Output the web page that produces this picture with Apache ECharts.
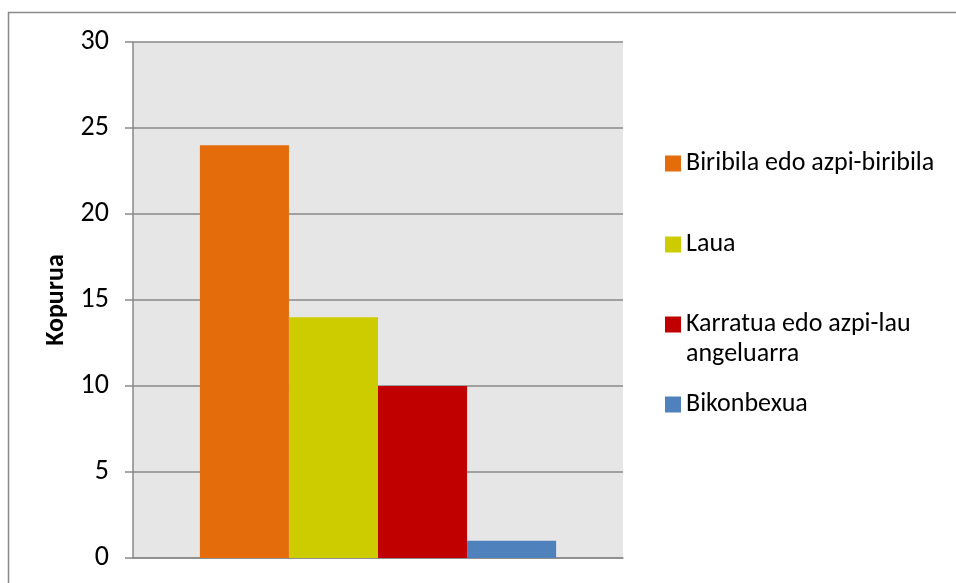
<!DOCTYPE html>
<html><head><meta charset="utf-8">
<script src="https://cdn.jsdelivr.net/npm/echarts@6/dist/echarts.min.js"></script>
<style>html,body{margin:0;padding:0;background:#fff}#c{width:956px;height:583px}</style>
</head><body><div id="c"></div>
<script>
const categories = [''];
const seriesNames = ['Biribila edo azpi-biribila', 'Laua', 'Karratua edo azpi-lau angeluarra', 'Bikonbexua'];
const seriesValues = [24, 14, 10, 1];
const seriesColors = ['#E46C0A', '#CCCC00', '#C00000', '#4F81BD'];
const yTicks = [0, 5, 10, 15, 20, 25, 30];
const yTitle = 'Kopurua';

const FONT = 'Carlito, Lato, sans-serif';
const chart = echarts.init(document.getElementById('c'));
const legendTops = [143.5, 224.5, 304.5, 384.5];
const legends = seriesNames.map((n, i) => ({
  data: [n],
  orient: 'vertical',
  left: 660,
  top: legendTops[i],
  itemWidth: 16,
  itemHeight: i === 2 ? 46 : 16,
  icon: i === 2 ? 'path://M0,0h16v16h-16z M8,46h0.01v0.01h-0.01z' : 'rect',
  formatter: (name) => name === 'Karratua edo azpi-lau angeluarra' ? 'Karratua edo azpi-lau\nangeluarra' : name,
  textStyle: {fontFamily: FONT, fontSize: 26, color: '#000', lineHeight: 30}
}));
chart.setOption({
  animation: false,
  textStyle: {fontFamily: FONT},
  graphic: [{type: 'rect', shape: {x: 8.5, y: 12.5, width: 1000, height: 700}, style: {fill: 'none', stroke: '#898989', lineWidth: 1.5}, z: 100}],
  grid: {left: 133, top: 42, width: 490, height: 516, backgroundColor: '#E6E6E6', show: true, borderWidth: 0},
  legend: legends,
  xAxis: {type: 'category', data: categories, axisLine: {lineStyle: {color: '#898989', width: 1.5}}, axisTick: {show: false}, axisLabel: {show: false}},
  yAxis: {type: 'value', min: 0, max: 30, interval: 5,
    name: yTitle, nameLocation: 'middle', nameGap: 57, nameRotate: 90,
    nameTextStyle: {fontFamily: FONT, fontSize: 26, fontWeight: 'bold', color: '#000'},
    axisLine: {show: true, lineStyle: {color: '#898989', width: 1.5}},
    axisTick: {show: true, length: 8, lineStyle: {color: '#898989', width: 1.5}},
    axisLabel: {fontFamily: FONT, fontSize: 28, color: '#000', margin: 24,
      formatter: v => yTicks.includes(v) ? String(v) : ''},
    splitLine: {lineStyle: {color: '#898989', width: 1.5}}},
  series: seriesNames.map((n, i) => ({
    type: 'bar', name: n, data: [seriesValues[i]],
    itemStyle: {color: seriesColors[i]},
    barGap: '0%', barCategoryGap: '27.3%'
  }))
});
</script></body></html>
